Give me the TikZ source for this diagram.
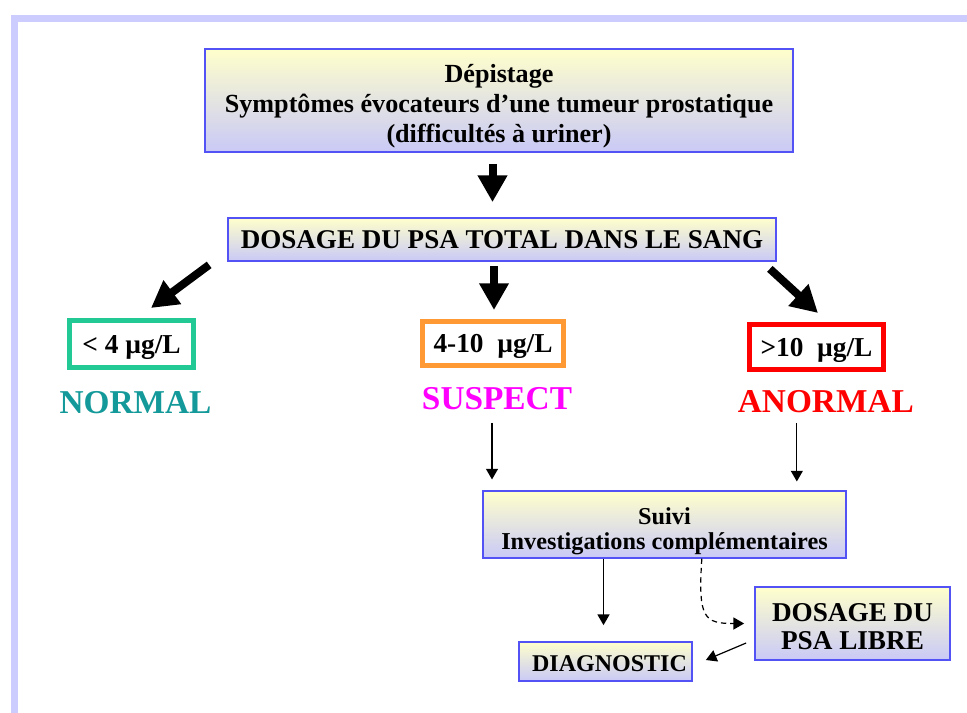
\documentclass[tikz,border=0pt]{standalone}
\usepackage{fontspec}
\setmainfont{Liberation Serif}
\usepackage{tikz}
\usetikzlibrary{positioning,arrows.meta,calc}
\definecolor{slideband}{HTML}{CCCCFF}
\definecolor{boxedge}{HTML}{5252F5}
\definecolor{shadetop}{HTML}{FFFFCC}
\definecolor{shadebot}{HTML}{C9C9F7}
\definecolor{okteal}{HTML}{22C995}
\definecolor{okword}{HTML}{139999}
\definecolor{midorange}{HTML}{FF9933}
\definecolor{midpink}{HTML}{FF00FF}
\definecolor{badred}{HTML}{FF0000}
\newcommand{\ugl}{µg/L}
\tikzset{
  stepbox/.style = {rectangle, draw=boxedge, line width=1.3pt, top color=shadetop, bottom color=shadebot,
                    align=center, inner sep=2pt, font=\bfseries\fontsize{19.6}{22.5}\selectfont},
  rangebox/.style = {rectangle, draw=#1, line width=3.75pt, fill=white, inner sep=0pt, text depth=0pt,
                    font=\bfseries\fontsize{20.5}{22}\selectfont},
  verdict/.style = {text=#1, inner sep=0pt, font=\bfseries\fontsize{25}{25}\selectfont},
  bigflow/.style = {-{Triangle[length=20pt,width=21pt]}, line width=6pt},
  flow/.style    = {-{Triangle[length=8pt,width=9pt]}, line width=0.9pt},
}
\begin{document}
\begin{tikzpicture}[x=0.75pt, y=-0.75pt, node distance=15pt]
  \useasboundingbox (0,0) rectangle (967,713);
  % slide frame
  \fill[slideband] (11,15) rectangle (967,22);
  \fill[slideband] (11,15) rectangle (18,713);

  \node[stepbox, minimum width=441pt, minimum height=77.25pt] (screen) at (499,100.5)
    {\rule{0pt}{22.5pt}Dépistage\\Symptômes évocateurs d’une tumeur prostatique\\(difficultés à uriner)};
  \node[stepbox, minimum width=411pt, minimum height=32.25pt, font=\bfseries\fontsize{20.3}{22}\selectfont]
    (total) at (502,239.5) {DOSAGE DU PSA TOTAL DANS LE SANG};

  % three ranges
  \node[rangebox=okteal, minimum width=93pt, minimum height=35.25pt] (low) at (131.5,344) {< 4 \ugl};
  \node[rangebox=midorange, minimum width=105.75pt, minimum height=33pt] (mid) at (493,343.5) {4-10 \ \ugl};
  \node[rangebox=badred, minimum width=100.5pt, minimum height=33.75pt] (high) at (816.5,347) {>10 \ \ugl};
  \node[verdict=okword, below=16pt of low, xshift=3pt] (normal) {NORMAL};
  \node[verdict=midpink, below=14pt of mid, xshift=3pt] (suspect) {SUSPECT};
  \node[verdict=badred, below=13.5pt of high, xshift=7pt] (anormal) {ANORMAL};

  \node[stepbox, minimum width=272.25pt, minimum height=48.75pt, font=\bfseries\fontsize{18.2}{18.75}\selectfont]
    (suivi) at (664.5,524.5) {\rule{0pt}{23pt}Suivi\\Investigations complémentaires};
  \node[stepbox, minimum width=146.25pt, minimum height=54.75pt, font=\bfseries\fontsize{20.4}{21}\selectfont]
    (libre) at (852.5,623.5) {\rule{0pt}{18.5pt}DOSAGE DU\\PSA LIBRE};
  \node[stepbox, minimum width=129.75pt, minimum height=29.25pt, font=\bfseries\fontsize{18}{18}\selectfont]
    (diag) at (605.5,661.5) {\rule{0pt}{15pt}\hspace{6pt}DIAGNOSTIC};

  \draw[bigflow] ([shift={(-6.5,11)}]screen.south) -- ([shift={(-9.5,-15)}]total.north);
  \draw[bigflow] ([shift={(-18,3)}]total.south west) -- ([shift={(19.5,-10)}]low.north);
  \draw[bigflow] ([shift={(-8,4)}]total.south) -- ([shift={(1,-9)}]mid.north);
  \draw[bigflow] ([shift={(-7,7)}]total.south east) -- ([shift={(1.5,-9)}]high.north);

  \draw[flow] ([shift={(-5,13)}]suspect.south) -- ([shift={(-5,-11)}]suspect.south |- suivi.north);
  \draw[flow] ([shift={(-29,10)}]anormal.south) -- ([shift={(-29,-9)}]anormal.south |- suivi.north);
  \draw[flow] ([xshift=-1.5pt]diag.north |- suivi.south) -- ([shift={(-2,-16)}]diag.north);
  \draw[flow, dash pattern=on 4pt off 3pt] ([xshift=28pt]suivi.south) .. controls +(-4,60) and +(-40,0) .. ([xshift=-7.5pt]libre.west);
  \draw[flow] ([shift={(-8,19.5)}]libre.west) -- ([shift={(13,-1.5)}]diag.east);
\end{tikzpicture}
\end{document}
